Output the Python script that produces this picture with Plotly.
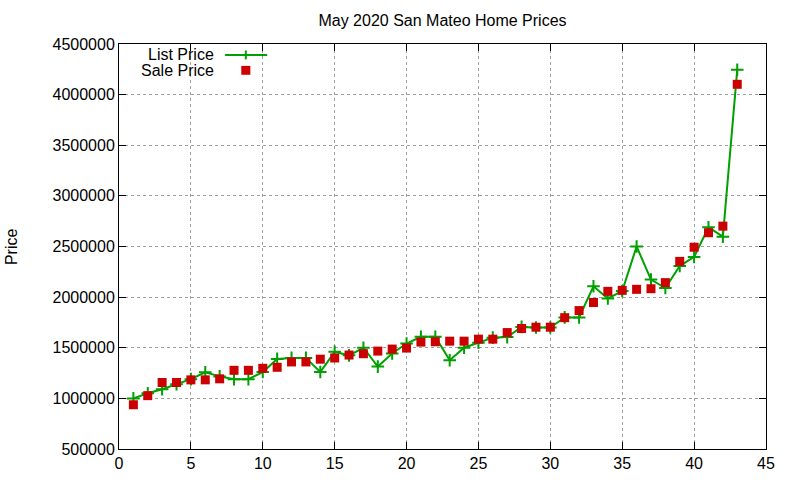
import plotly.graph_objects as go

# listing index (1..43), sorted by price
listing = list(range(1, 44))

list_price = [
    1000000, 1050000, 1090000, 1140000, 1190000, 1257000, 1217000, 1190000, 1190000, 1260000,
    1390000, 1400000, 1400000, 1260000, 1460000, 1425000, 1500000, 1314000, 1444000, 1542000,
    1608000, 1608000, 1376000, 1500000, 1549000, 1600000, 1605000, 1706000, 1700000, 1700000,
    1800000, 1800000, 2107000, 1987000, 2060000, 2500000, 2173000, 2090000, 2307000, 2397000,
    2690000, 2597000, 4245000,
]

sale_price = [
    937000, 1027000, 1157000, 1157000, 1183000, 1183000, 1193000, 1277000, 1277000, 1297000,
    1307000, 1360000, 1360000, 1387000, 1399000, 1428000, 1441000, 1467000, 1487000, 1497000,
    1556000, 1559000, 1565000, 1565000, 1585000, 1585000, 1650000, 1690000, 1703000, 1703000,
    1797000, 1867000, 1947000, 2057000, 2067000, 2077000, 2083000, 2143000, 2353000, 2493000,
    2636000, 2701000, 4102000,
]

green = '#00a000'
red = '#cc0000'
font = 'Liberation Sans, Arial, sans-serif'

fig = go.Figure()

fig.add_trace(go.Scatter(
    x=listing, y=list_price,
    mode='lines+markers',
    line=dict(color=green, width=2),
    marker=dict(symbol='cross-thin', size=9, line=dict(color=green, width=2)),
    name='List Price',
))

fig.add_trace(go.Scatter(
    x=listing, y=sale_price,
    mode='markers',
    marker=dict(symbol='square', size=9, color=red),
    name='Sale Price',
))

# gnuplot style legend: text right-aligned, sample to the right
fig.add_annotation(xref='paper', yref='paper', x=0.150, y=0.973, text='List Price',
                   showarrow=False, xanchor='right', yanchor='middle',
                   font=dict(family=font, size=16, color='black'))
fig.add_annotation(xref='paper', yref='paper', x=0.150, y=0.935, text='Sale Price',
                   showarrow=False, xanchor='right', yanchor='middle',
                   font=dict(family=font, size=16, color='black'))
fig.add_shape(type='line', xref='paper', yref='paper', x0=0.164, x1=0.229, y0=0.973, y1=0.973,
              line=dict(color=green, width=2))
fig.add_shape(type='line', xref='paper', yref='paper', x0=0.196, x1=0.196, y0=0.962, y1=0.984,
              line=dict(color=green, width=2))
fig.add_shape(type='rect', xref='paper', yref='paper', x0=0.189, x1=0.203, y0=0.924, y1=0.946,
              line=dict(width=0), fillcolor=red)

# y axis label
fig.add_annotation(xref='paper', yref='paper', x=-0.166, y=0.5, text='Price', textangle=-90,
                   showarrow=False, xanchor='center', yanchor='middle',
                   font=dict(family=font, size=16, color='black'))

axis_style = dict(
    showline=True, linecolor='black', linewidth=1, mirror='allticks',
    ticks='inside', ticklen=7, tickcolor='black',
    showgrid=True, gridcolor='#a0a0a0', griddash='dot', gridwidth=1,
    zeroline=False, automargin=False,
    tickfont=dict(family=font, size=16, color='black'),
)

fig.update_xaxes(range=[0, 45], dtick=5, tick0=0, **axis_style)
fig.update_yaxes(range=[500000, 4500000], dtick=500000, tick0=500000, tickformat='d', **axis_style)

fig.update_layout(
    width=800, height=480,
    title=dict(text='May 2020 San Mateo Home Prices', xref='paper', x=0.5, xanchor='center',
               y=0.958, yanchor='middle', font=dict(family=font, size=16, color='black')),
    margin=dict(l=119, r=34, t=44, b=31),
    plot_bgcolor='white', paper_bgcolor='white',
    showlegend=False,
)

# drop the page's default body margin so the figure sits at the window corner
fig.write_html("out.html", config={'displayModeBar': False},
               post_script="document.body.style.margin='0';")
